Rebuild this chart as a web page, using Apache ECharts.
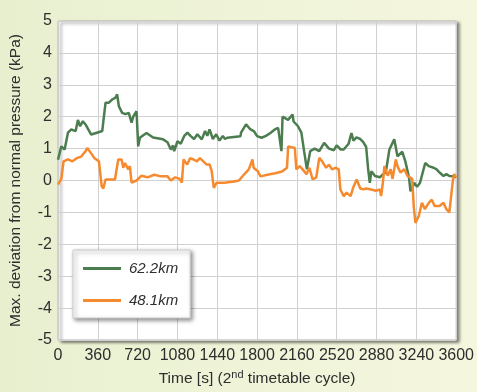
<!DOCTYPE html>
<html>
<head>
<meta charset="utf-8">
<script src="https://cdn.jsdelivr.net/npm/echarts@6/dist/echarts.min.js"></script>
<style>
  html, body { margin: 0; padding: 0; }
  body { width: 477px; height: 392px; background: linear-gradient(90deg, #e8efcf 0%, #eff4d8 50%, #f4f6de 100%); }
  #chart { width: 477px; height: 392px; }
</style>
</head>
<body>
<div id="chart"></div>
<script>
// Time axis ticks (seconds)
const xTicks = [0, 360, 720, 1080, 1440, 1800, 2160, 2520, 2880, 3240, 3600];
const yTicks = [-5, -4, -3, -2, -1, 0, 1, 2, 3, 4, 5];

// 62.2 km measurement point
const timeA = [0, 30, 60, 90, 120, 160, 180, 200, 225, 250, 300, 345, 400, 415, 430, 460, 490, 520, 535, 550, 580, 610, 640, 665, 680, 710, 725, 740, 800, 860, 950, 990, 1020, 1040, 1050, 1080, 1110, 1140, 1170, 1200, 1230, 1260, 1300, 1330, 1350, 1370, 1400, 1430, 1460, 1490, 1510, 1530, 1650, 1655, 1700, 1740, 1770, 1800, 1840, 1880, 1920, 1960, 1990, 2020, 2030, 2080, 2120, 2130, 2170, 2200, 2225, 2250, 2280, 2320, 2362, 2406, 2450, 2494, 2520, 2556, 2583, 2627, 2653, 2671, 2698, 2733, 2760, 2786, 2804, 2819, 2833, 2866, 2910, 2937, 2963, 2996, 3040, 3069, 3113, 3140, 3173, 3187, 3220, 3246, 3273, 3320, 3352, 3396, 3423, 3450, 3485, 3511, 3538, 3571, 3600];
const valuesA = [0.65, 1.07, 0.97, 1.5, 1.6, 1.55, 1.9, 1.7, 1.86, 1.75, 1.44, 1.49, 1.55, 2.0, 2.44, 2.44, 2.54, 2.6, 2.7, 2.33, 2.12, 2.08, 2.12, 1.81, 2.0, 2.17, 1.07, 1.34, 1.49, 1.35, 1.29, 1.2, 0.97, 1.1, 0.92, 1.23, 1.15, 1.39, 1.5, 1.39, 1.3, 1.45, 1.29, 1.55, 1.4, 1.6, 1.3, 1.45, 1.25, 1.4, 1.3, 1.34, 1.39, 1.5, 1.76, 1.6, 1.55, 1.39, 1.34, 1.4, 1.49, 1.6, 1.65, 0.92, 2.0, 1.9, 2.07, 1.85, 1.7, 1.5, 0.92, 0.35, 0.92, 1.0, 0.92, 1.18, 1.0, 0.95, 1.1, 0.97, 0.97, 1.15, 1.49, 1.25, 1.35, 1.3, 1.2, 1.05, 0.35, -0.07, 0.29, 0.14, 0.1, 0.19, 0.25, 0.97, 1.29, 0.76, 0.9, 0.6, 0.1, -0.34, -0.07, -0.2, -0.07, 0.55, 0.45, 0.4, 0.35, 0.25, 0.14, 0.2, 0.14, 0.13, 0.1];

// 48.1 km measurement point
const timeB = [0, 30, 50, 90, 130, 170, 210, 250, 265, 300, 330, 370, 395, 410, 430, 515, 545, 575, 590, 605, 635, 650, 665, 710, 755, 810, 870, 930, 990, 1020, 1060, 1100, 1120, 1135, 1168, 1194, 1230, 1256, 1283, 1344, 1371, 1389, 1409, 1433, 1504, 1592, 1636, 1672, 1698, 1725, 1758, 1769, 1804, 1831, 1893, 1964, 2026, 2070, 2081, 2141, 2155, 2185, 2211, 2247, 2273, 2302, 2335, 2362, 2388, 2424, 2450, 2477, 2512, 2538, 2553, 2583, 2609, 2645, 2671, 2700, 2733, 2760, 2786, 2830, 2875, 2910, 2921, 2937, 2951, 2981, 3007, 3025, 3054, 3069, 3096, 3131, 3158, 3202, 3216, 3231, 3263, 3290, 3317, 3352, 3379, 3405, 3450, 3485, 3511, 3538, 3556, 3571, 3582, 3600];
const valuesB = [-0.13, 0.05, 0.6, 0.66, 0.6, 0.7, 0.75, 0.92, 1.02, 0.85, 0.7, 0.6, -0.18, -0.25, 0.03, 0.03, 0.66, 0.66, 0.4, 0.55, 0.35, 0.45, -0.07, 0.0, 0.15, 0.1, 0.18, 0.13, 0.13, 0.0, 0.1, 0.05, -0.07, 0.66, 0.5, 0.7, 0.65, 0.6, 0.7, 0.5, 0.5, 0.3, -0.23, -0.07, -0.07, -0.03, 0.0, 0.15, 0.25, 0.35, 0.66, 0.4, 0.3, 0.13, 0.18, 0.23, 0.28, 0.4, 1.07, 1.02, 0.35, 0.45, 0.35, 0.2, 0.4, 0.03, 0.1, 0.71, 0.6, 0.4, 0.5, 0.35, 0.4, 0.35, -0.28, -0.49, -0.38, -0.49, -0.2, 0.03, -0.25, -0.28, -0.25, -0.28, -0.32, -0.28, -0.49, -0.07, 0.45, 0.15, 0.35, 0.05, 0.66, 0.45, 0.25, 0.35, 0.15, 0.05, -0.8, -1.33, -1.1, -0.7, -0.9, -0.7, -0.6, -0.8, -0.8, -0.7, -0.9, -1.0, -0.95, 0.03, 0.2, 0.1];

const seriesNames = ['62.2km', '48.1km'];
const seriesColors = ['#4b7d4f', '#f58a2f'];

const pairs = (ts, vs) => ts.map((t, i) => [t, vs[i]]);

const chart = echarts.init(document.getElementById('chart'), null, { renderer: 'canvas' });
const font = '"Liberation Sans", Arial, sans-serif';
const labelColor = '#2e2e2e';

chart.setOption({
  animation: false,
  backgroundColor: 'transparent',
  textStyle: { fontFamily: font },
  grid: {
    left: 53, right: 17, top: 21, bottom: 52,
    show: true,
    backgroundColor: '#ffffff',
    borderColor: '#b8b8b8',
    borderWidth: 1,
    shadowColor: 'rgba(0,0,0,0.55)',
    shadowBlur: 3,
    shadowOffsetX: 3,
    shadowOffsetY: 2
  },
  legend: {
    orient: 'vertical',
    left: 73, top: 250,
    padding: [11, 12, 10, 10],
    itemGap: 17,
    itemWidth: 38,
    itemHeight: 3,
    icon: 'rect',
    backgroundColor: '#ffffff',
    borderColor: '#cccccc',
    borderWidth: 1,
    shadowColor: 'rgba(0,0,0,0.45)',
    shadowBlur: 4,
    shadowOffsetX: 2,
    shadowOffsetY: 2,
    textStyle: { fontSize: 15, fontStyle: 'italic', color: labelColor, fontFamily: font, padding: [0, 0, 0, 3] },
    data: seriesNames
  },
  xAxis: {
    type: 'value',
    min: xTicks[0], max: xTicks[xTicks.length - 1], interval: 360,
    name: '{a|Time [s] (2}{s|nd}{a| timetable cycle)}',
    nameLocation: 'middle',
    nameGap: 29,
    nameTextStyle: {
      rich: {
        a: { fontSize: 15.5, color: labelColor, fontFamily: font },
        s: { fontSize: 11, color: labelColor, fontFamily: font, verticalAlign: 'top', padding: [0, 0, 8, 0] }
      }
    },
    axisLine: { show: false },
    axisTick: { show: false },
    axisLabel: { fontSize: 16, color: labelColor, margin: 8, formatter: v => String(v) },
    splitLine: { show: true, lineStyle: { color: '#d0d0d0', width: 1 } }
  },
  yAxis: {
    type: 'value',
    min: yTicks[0], max: yTicks[yTicks.length - 1], interval: 1,
    name: 'Max. deviation from normal pressure (kPa)',
    nameLocation: 'middle',
    nameGap: 34,
    nameRotate: 90,
    nameTextStyle: { fontSize: 15.5, color: labelColor },
    axisLine: { show: false },
    axisTick: { show: false },
    axisLabel: { fontSize: 16, color: labelColor, margin: 6, formatter: v => String(v) },
    splitLine: { show: true, lineStyle: { color: '#d0d0d0', width: 1 } }
  },
  series: [
    {
      name: seriesNames[0], type: 'line', showSymbol: false,
      data: pairs(timeA, valuesA),
      lineStyle: { color: seriesColors[0], width: 2.5 },
      itemStyle: { color: seriesColors[0] }
    },
    {
      name: seriesNames[1], type: 'line', showSymbol: false,
      data: pairs(timeB, valuesB),
      lineStyle: { color: seriesColors[1], width: 2.5 },
      itemStyle: { color: seriesColors[1] }
    }
  ]
});
</script>
</body>
</html>
